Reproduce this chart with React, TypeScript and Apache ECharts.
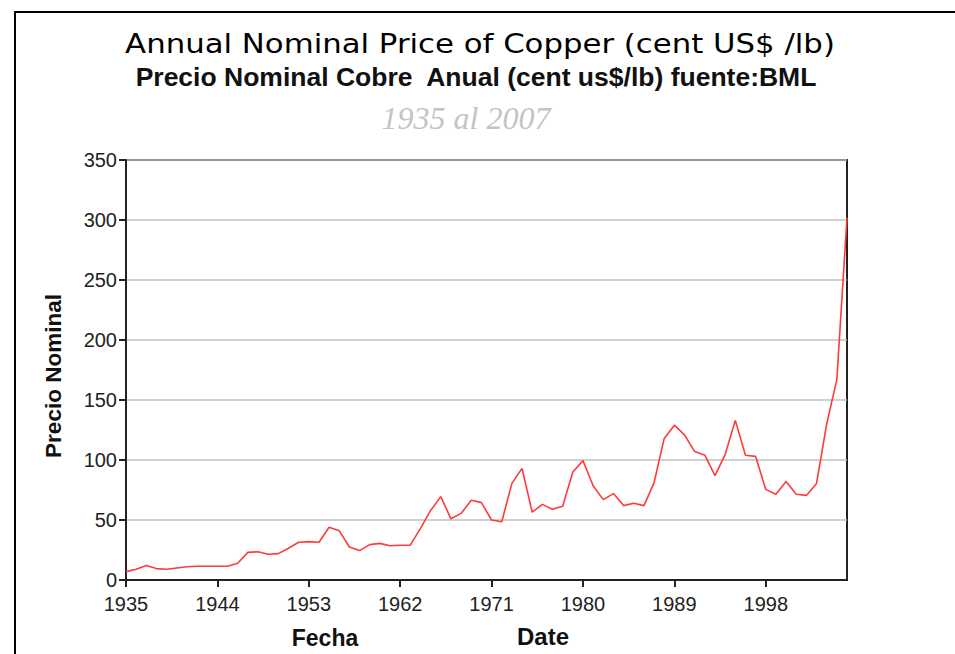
import React, { useEffect, useRef } from "react";
import * as echarts from "echarts";

const years: string[] = [];
for (let y = 1935; y <= 2006; y++) years.push(String(y));

const prices: number[] = [
  7, 9, 12, 9.5, 9, 10, 11, 11.5, 11.5, 11.5,
  11.5, 14, 23, 23.5, 21.5, 22, 26.5, 31.5, 32, 31.5,
  44, 41, 27.5, 24.5, 29.5, 30.5, 28.5, 29, 29, 43,
  58, 69.5, 51, 55.5, 66.5, 64.5, 50, 48.5, 80.5, 93,
  56.5, 63, 59, 61.5, 90, 99.5, 78.5, 67, 72, 62,
  64, 62, 81, 118, 129, 121, 107, 104, 87, 104.5,
  133, 104, 103, 75.5, 71.5, 82, 71.5, 70.5, 80.5, 130,
  167, 302,
];

const titleMain = "Annual Nominal Price of Copper (cent US$ /lb)";
const titleSub = "Precio Nominal Cobre  Anual (cent us$/lb) fuente:BML";
const titleRange = "1935 al 2007";
const yName = "Precio Nominal";
const xName1 = "Fecha";
const xName2 = "Date";

export default function App() {
  const ref = useRef<HTMLDivElement>(null);
  useEffect(() => {
    if (!ref.current) return;
    const chart = echarts.init(ref.current, null, { renderer: "svg" });
    chart.setOption({
      animation: false,
      backgroundColor: "#fff",
      grid: {
        left: 126,
        top: 160,
        right: 108,
        bottom: 74,
        show: true,
        borderColor: "#222",
        borderWidth: 2,
        backgroundColor: "transparent",
      },
      xAxis: {
        type: "category",
        data: years,
        boundaryGap: false,
        axisLine: { show: true, lineStyle: { color: "#222", width: 2 } },
        axisTick: { show: true, interval: 8, length: 7, lineStyle: { color: "#222", width: 2 } },
        axisLabel: {
          interval: 8,
          color: "#222",
          fontFamily: "Liberation Sans",
          fontSize: 20,
          margin: 14,
        },
        splitLine: { show: false },
      },
      yAxis: {
        type: "value",
        min: 0,
        max: 350,
        interval: 50,
        axisLine: { show: true, lineStyle: { color: "#222", width: 2 } },
        axisTick: { show: true, length: 7, lineStyle: { color: "#222", width: 2 } },
        axisLabel: {
          color: "#222",
          fontFamily: "Liberation Sans",
          fontSize: 20,
          margin: 9,
        },
        splitLine: { show: true, lineStyle: { color: "#c0c0c0", width: 1.6 } },
      },
      series: [
        {
          type: "line",
          data: prices,
          symbol: "none",
          lineStyle: { color: "#ff3a3a", width: 1.6 },
        },
      ],
      graphic: [
        {
          type: "rect",
          shape: { x: 15, y: 12, width: 1000, height: 700 },
          style: { fill: "none", stroke: "#000", lineWidth: 2 },
          silent: true,
        },
        {
          type: "text",
          x: 480,
          y: 30,
          scaleX: 1.14,
          style: {
            text: titleMain,
            fill: "#000",
            font: "normal 27px 'DejaVu Sans'",
            textAlign: "center",
            textVerticalAlign: "top",
          },
        },
        {
          type: "text",
          x: 476,
          y: 63,
          style: {
            text: titleSub,
            fill: "#111",
            font: "bold 26.5px 'Liberation Sans'",
            textAlign: "center",
            textVerticalAlign: "top",
          },
        },
        {
          type: "text",
          x: 466,
          y: 102,
          style: {
            text: titleRange,
            fill: "#c4c4c4",
            font: "italic 32px 'Liberation Serif'",
            textAlign: "center",
            textVerticalAlign: "top",
          },
        },
        {
          type: "text",
          x: 53,
          y: 376,
          rotation: Math.PI / 2,
          style: {
            text: yName,
            fill: "#111",
            font: "bold 22.5px 'Liberation Sans'",
            textAlign: "center",
            textVerticalAlign: "middle",
          },
        },
        {
          type: "text",
          x: 325,
          y: 638,
          style: {
            text: xName1,
            fill: "#111",
            font: "bold 23px 'Liberation Sans'",
            textAlign: "center",
            textVerticalAlign: "middle",
          },
        },
        {
          type: "text",
          x: 543,
          y: 636,
          style: {
            text: xName2,
            fill: "#111",
            font: "bold 24px 'Liberation Sans'",
            textAlign: "center",
            textVerticalAlign: "middle",
          },
        },
      ],
    });
    return () => chart.dispose();
  }, []);
  return (
    <div
      ref={ref}
      style={{ position: "fixed", left: 0, top: 0, width: 955, height: 654 }}
    />
  );
}
